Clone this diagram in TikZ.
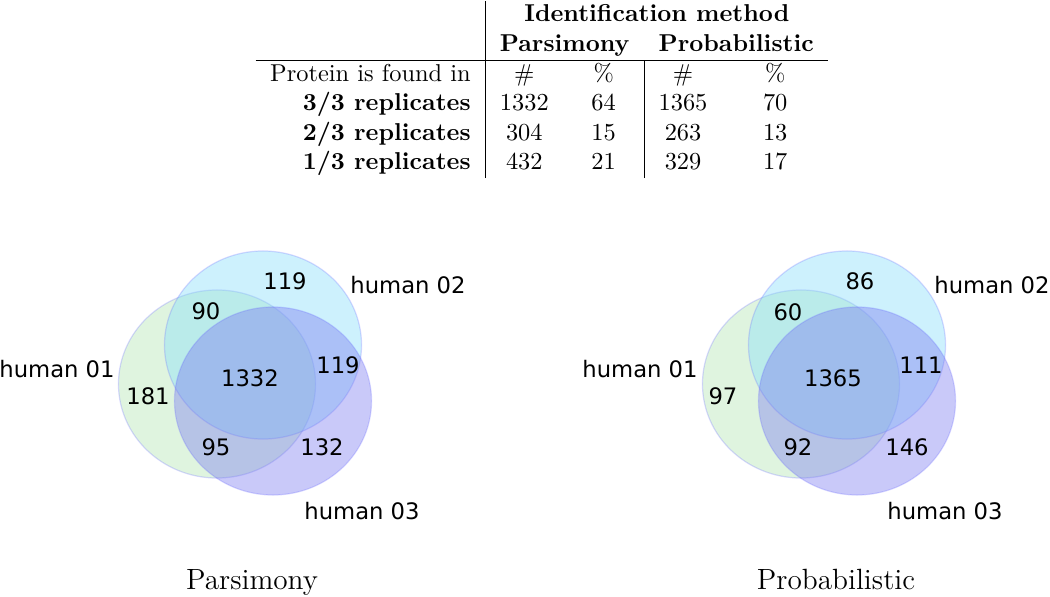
\documentclass[tikz,border=0pt]{standalone}
\usepackage{fontspec}
\newfontfamily\vennfont{DejaVu Sans}
\usepackage{xcolor}
\definecolor{vgreen}{RGB}{150,220,150}
\definecolor{vcyan}{RGB}{130,220,250}
\definecolor{vblue}{RGB}{120,120,240}
\usepackage{tikz}
\usetikzlibrary{shapes.geometric, positioning}

\begin{document}
\begin{tikzpicture}[x=0.41pt, y=-0.41pt,
  vset/.style={ellipse, inner sep=0pt, minimum width=80.8pt, minimum height=77.1pt,
               fill opacity=0.4, draw=blue!60, draw opacity=0.25, line width=0.5pt},
  num/.style={inner sep=0pt, font=\vennfont\fontsize{9.3}{11}\selectfont},
  vcap/.style={inner sep=0pt, anchor=base, font=\large}
]
\useasboundingbox (0,0) rectangle (1050,597);

% summary table
\node[inner sep=0pt, anchor=north] (tab) at (542,1) {%
  \begin{tabular}{r|cc|cc}
    & \multicolumn{4}{c}{\textbf{Identification method}}\\
    & \multicolumn{2}{c}{\textbf{Parsimony}} & \multicolumn{2}{c}{\textbf{Probabilistic}}\\
    \hline
    Protein is found in & \# & \% & \# & \%\\
    \textbf{3/3 replicates} & 1332 & 64 & 1365 & 70\\
    \textbf{2/3 replicates} & 304 & 15 & 263 & 13\\
    \textbf{1/3 replicates} & 432 & 21 & 329 & 17\\
  \end{tabular}};

% parsimony venn
\node[vset, fill=vgreen, fill opacity=0.3] (pa1) at (217,384) {};
\node[vset, fill=vcyan] (pa2) at (263,345) {};
\node[vset, fill=vblue] (pa3) at (273,401) {};
\node[num] (pa1l) at (57,369) {human 01};
\node[num] (pa2l) at (408,285) {human 02};
\node[num] (pa3l) at (362,511) {human 03};
\node[num] (pa010) at (285,281) {119};
\node[num] (pa110) at (206,311) {90};
\node[num] (pa111) at (250,378) {1332};
\node[num] (pa011) at (338,365) {119};
\node[num] (pa100) at (148,396) {181};
\node[num] (pa101) at (216,447) {95};
\node[num] (pa001) at (322,447) {132};
\node[vcap] (pacap) at (252,589) {Parsimony};

% probabilistic venn
\node[vset, fill=vgreen, fill opacity=0.3] (pr1) at (801,384) {};
\node[vset, fill=vcyan] (pr2) at (847,345) {};
\node[vset, fill=vblue] (pr3) at (857,401) {};
\node[num] (pr1l) at (640,369) {human 01};
\node[num] (pr2l) at (992,285) {human 02};
\node[num] (pr3l) at (945,511) {human 03};
\node[num] (pr010) at (860,281) {86};
\node[num] (pr110) at (788,312) {60};
\node[num] (pr111) at (833,378) {1365};
\node[num] (pr011) at (921,365) {111};
\node[num] (pr100) at (723,396) {97};
\node[num] (pr101) at (798,447) {92};
\node[num] (pr001) at (907,447) {146};
\node[vcap] (prcap) at (836,589) {Probabilistic};
\end{tikzpicture}
\end{document}
